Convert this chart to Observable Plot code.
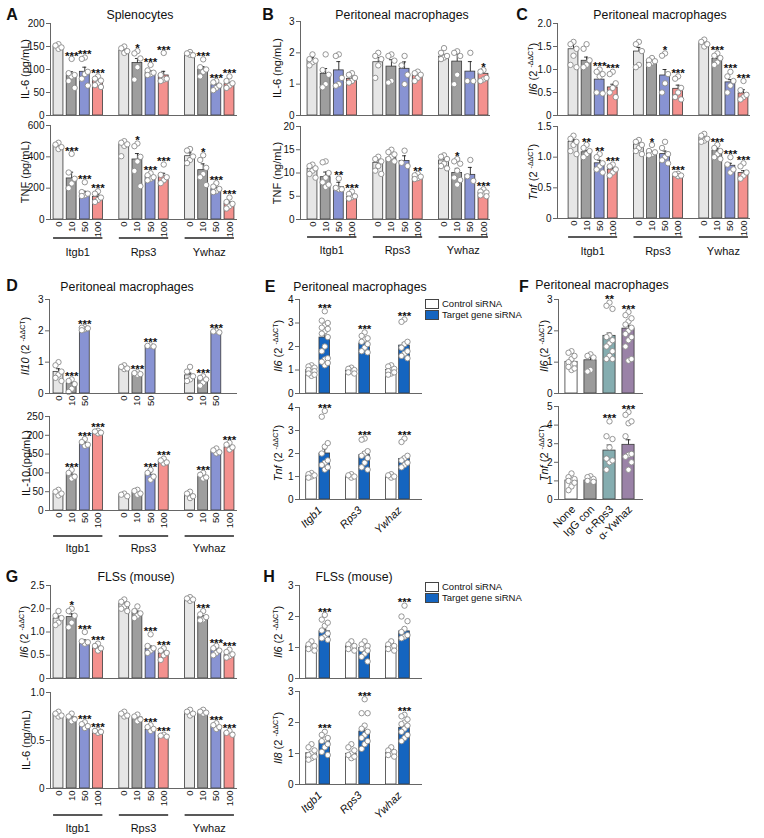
<!DOCTYPE html>
<html><head><meta charset="utf-8">
<script src="https://cdn.jsdelivr.net/npm/d3@7"></script>
<script src="https://cdn.jsdelivr.net/npm/@observablehq/plot@0.6"></script>
<style>
body{margin:0;background:#fff;font-family:"Liberation Sans",Arial,sans-serif;color:#111;}
#fig{position:relative;width:764px;height:838px;overflow:hidden;background:#fff;}
.abs{position:absolute;white-space:nowrap;line-height:1;}
.ctr{transform:translate(-50%,-50%);}
.letter{font-weight:bold;font-size:16px;}
.title{font-size:12.3px;}
.ytitle{font-size:11px;transform:translate(-50%,-50%) rotate(-90deg);}
.ytitle sup{font-size:7px;vertical-align:4px;}
.legend{font-size:9.5px;}
.legend .row{display:flex;align-items:center;height:11px;}
.legend .sw{display:inline-block;width:12px;height:8px;border:1px solid #444;margin-right:3px;}
svg{overflow:visible;}
</style></head>
<body><div id="fig"></div>
<script>
// ---------- categories ----------
const genes = ["Itgb1","Rps3","Ywhaz"];
const doses = ["0","10","50","100"];
const doseColors = ["#e6e6e6","#9e9e9e","#8893d3","#f4918e"];
const sirnaConditions = ["Control siRNA","Target gene siRNA"];
const sirnaColors = ["#ffffff","#1565c0"];
const antibodyTreatments = ["None","IgG con","α-Rps3","α-Ywhaz"];
const antibodyColors = ["#ffffff","#9b9b9b","#85adb0","#9a82a7"];

// ---------- A: splenocytes ----------
const aIl6Means = [150,87,95,76, 141,114,93,87, 134,100,66,68];
const aIl6Sems  = [4,8,10,5, 4,10,4,9, 3,6,4,4];
const aIl6Points = [[155,152,148,145],[123,92,88,85,75,60],[126,123,95,90,80,65],[85,80,76,70,66,62],
  [150,146,140,136],[140,135,124,105,78],[110,98,93,90,88],[136,88,80,78,75],
  [138,135,131,132],[122,105,100,95,85],[75,72,65,60,55],[85,75,70,65,60]];
const aIl6Stars = ["","***","***","***", "","*","***","***", "","***","***","***"];

const aTnfMeans = [470,262,168,143, 480,383,275,277, 404,315,194,100];
const aTnfSems  = [12,40,12,15, 18,38,12,18, 22,40,12,12];
const aTnfPoints = [[490,478,462,450],[419,300,260,230,200],[238,175,165,155,150],[180,165,140,125,112],
  [500,490,480,470,404],[485,468,400,370,310,213],[295,282,270,260,250],[351,285,270,250,232],
  [450,440,402,380,360],[410,380,330,290,270,220],[232,210,195,182,175],[140,112,100,85,70]];
const aTnfStars = ["","***","***","***", "","*","***","***", "","*","***","***"];

// ---------- B: peritoneal macrophages (protein) ----------
const bIl6Means = [1.76,1.33,1.44,1.17, 1.70,1.56,1.49,1.28, 1.88,1.72,1.40,1.33];
const bIl6Sems  = [0.09,0.17,0.28,0.12, 0.15,0.22,0.22,0.12, 0.07,0.23,0.32,0.12];
const bIl6Points = [[1.95,1.8,1.75,1.7,1.6],[1.95,1.45,1.3,1.0,0.9],[1.95,1.9,1.2,1.0,0.95],[1.35,1.3,1.2,1.1,1.05],
  [2.0,1.9,1.8,1.6,1.2],[1.95,1.9,1.75,1.1,1.05],[1.9,1.6,1.3,1.0],[1.4,1.35,1.3,1.2,1.1],
  [2.15,2.0,1.9,1.85,1.8],[2.05,2.0,1.9,1.3,1.0],[2.0,1.1,1.1],[1.45,1.4,1.2,1.15,1.1]];
const bIl6Stars = ["","","","", "","","","", "","","","*"];

const bTnfMeans = [10.9,9.1,7.0,4.8, 12.2,13.2,12.6,9.1, 12.7,10.0,9.6,5.7];
const bTnfSems  = [0.5,1.1,1.0,0.35, 0.9,0.6,1.1,0.3, 0.8,1.0,1.6,0.3];
const bTnfPoints = [[11.8,11.5,11,10.5,9.8,9.0],[12.5,12.3,10,9,8,7.5,7],[8.8,6.8,6.5,6.5],[6,5.5,5,4.8,4.5],
  [13.5,13,12.5,11.5,10.5,9.8],[15,14.5,14,13.5,13,12.5],[14.8,12.2,11.5],[9.8,9.5,9.2,8.9,8.7],
  [13.8,13.5,13,12,11.5,11],[13,12.5,12,10.5,9,8.5,7.5],[12.8,9.3,8.3],[6.5,6,5.8,5.5,5.2,5]];
const bTnfStars = ["","","**","***", "","","","**", "","*","","***"];

// ---------- C: peritoneal macrophages (mRNA) ----------
const cIl6Means = [1.44,1.19,0.78,0.61, 1.39,1.19,0.87,0.58, 1.57,1.23,0.72,0.48];
const cIl6Sems  = [0.11,0.08,0.07,0.07, 0.09,0.03,0.13,0.08, 0.04,0.07,0.06,0.08];
const cIl6Points = [[1.6,1.55,1.45,1.3,1.1,1.05],[1.55,1.45,1.2,1.1,1.05],[1.0,0.95,0.9,0.85,0.5,0.48],[0.95,0.9,0.7,0.6,0.5,0.4],
  [1.6,1.55,1.4,1.1,1.05],[1.25,1.2,1.18,1.15,1.1],[1.35,1.3,0.9,0.7,0.5],[0.85,0.8,0.6,0.5,0.4,0.35],
  [1.65,1.6,1.55,1.5],[1.35,1.3,1.25,1.15,1.1],[0.95,0.85,0.75,0.65,0.5],[0.75,0.55,0.45,0.4,0.35]];
const cIl6Stars = ["","","***","***", "","","*","***", "","***","***","***"];

const cTnfMeans = [1.25,1.08,0.9,0.8, 1.21,1.06,1.05,0.7, 1.32,1.1,0.86,0.74];
const cTnfSems  = [0.04,0.03,0.05,0.03, 0.03,0.03,0.05,0.01, 0.02,0.04,0.04,0.04];
const cTnfPoints = [[1.35,1.3,1.25,1.2,1.1,1.05],[1.2,1.15,1.1,1.05,1.0],[1.05,1.0,0.9,0.85,0.8,0.75],[0.88,0.85,0.8,0.75,0.7],
  [1.28,1.25,1.2,1.15,1.1,1.05],[1.2,1.1,1.08,1.05,1.03],[1.25,1.15,1.05,1.0,0.95,0.9],[0.73,0.72,0.7,0.69],
  [1.38,1.35,1.3,1.27,1.25],[1.2,1.15,1.1,1.05,1.0,0.97],[1.0,0.88,0.8,0.75],[0.9,0.85,0.75,0.7,0.65]];
const cTnfStars = ["","**","**","***", "","*","","***", "","***","***","***"];

// ---------- D: IL-10 ----------
const dIl10Doses = ["0","10","50"];
const dIl10Means = [0.69,0.32,2.1, 0.83,0.64,1.52, 0.58,0.48,1.97];
const dIl10Sems  = [0.1,0.06,0.02, 0.03,0.02,0.01, 0.07,0.04,0.01];
const dIl10Points = [[1.0,0.9,0.7,0.6,0.5,0.4],[0.45,0.4,0.3,0.15,0.05],[2.12,2.1,2.08,2.05,2.02],
  [0.9,0.85,0.8,0.78],[0.68,0.65,0.62,0.6],[1.54,1.52,1.5],
  [0.85,0.7,0.55,0.45,0.4],[0.55,0.5,0.45,0.35,0.25],[2.0,1.98,1.95]];
const dIl10Stars = ["","***","***", "","***","***", "","***","***"];

const dIl10ProteinMeans = [44,95,178,207, 42,47,95,129, 41,89,156,168];
const dIl10ProteinSems  = [3,5,4,2, 2,3,6,3, 4,4,3,4];
const dIl10ProteinPoints = [[55,50,45,40],[108,100,90,85],[190,182,175,172],[212,210,207,205],
  [45,42,38],[55,52,45,42],[108,100,90,82],[138,133,128,125],
  [50,45,38,33],[100,95,88,85],[165,160,155,152],[180,175,168,162]];
const dIl10ProteinStars = ["","***","***","***", "","","***","***", "","***","","***"];

// ---------- E: siRNA, peritoneal macrophages ----------
const eIl6Means = [1.0,2.38, 0.97,2.13, 1.0,2.04];
const eIl6Sems  = [0.03,0.17, 0.02,0.1, 0.03,0.12];
const eIl6Points = [[1.2,1.15,1.1,1.05,1.0,0.95,0.9,0.85,0.8,0.75],
  [3.5,3.1,3.0,2.9,2.8,2.75,2.65,2.55,2.4,2.0,1.8,1.5,1.45,1.35,1.3,1.2],
  [1.1,1.05,1.0,0.95,0.9,0.85],[2.6,2.45,2.35,2.3,2.2,2.1,1.95,1.8,1.75],
  [1.2,1.15,1.05,1.0,0.95,0.9,0.85,0.8],[3.15,3.05,2.2,2.1,1.95,1.8,1.7,1.6,1.5]];
const eIl6Stars = ["","***","","***","","***"];

const eTnfMeans = [1.01,2.0, 1.01,1.93, 1.01,1.76];
const eTnfSems  = [0.02,0.2, 0.02,0.14, 0.02,0.1];
const eTnfPoints = [[1.15,1.1,1.05,1.0,0.95],[3.85,3.6,2.45,2.3,2.0,1.7,1.6,1.5,1.4,1.3],
  [1.1,1.05,1.0,0.95],[2.65,2.6,2.1,2.0,1.9,1.8,1.6,1.4,1.3],
  [1.1,1.05,1.0,0.95],[2.65,2.5,1.9,1.8,1.7,1.6,1.5,1.4]];
const eTnfStars = ["","***","","***","","***"];

// ---------- F: antibodies ----------
const fIl6Means = [1.01,1.06,1.84,2.07];
const fIl6Sems  = [0.06,0.09,0.09,0.11];
const fIl6Points = [[1.35,1.3,1.2,1.1,1.0,0.95,0.9,0.85,0.8,0.75],[1.25,1.2,1.15,0.75,0.7],
  [2.9,2.8,2.7,1.85,1.8,1.7,1.6,1.5,1.35,1.2,1.1,1.1],[2.6,2.5,2.4,2.3,2.2,2.1,2.0,1.9,1.8,1.7,1.5,1.1,1.05]];
const fIl6Stars = ["","","**","***"];

const fTnfMeans = [1.02,1.02,2.63,2.94];
const fTnfSems  = [0.08,0.06,0.3,0.27];
const fTnfPoints = [[1.4,1.2,1.1,1.05,1.0,0.9,0.7,0.5],[1.25,1.2,1.1,1.05,1.0,0.95],
  [4.2,3.4,3.25,2.8,2.2,2.1,2.0,1.6],[4.7,4.55,4.2,4.1,3.4,2.45,2.4,2.3,2.0,1.6]];
const fTnfStars = ["","","***","***"];

// ---------- G: FLSs ----------
const gIl6TickValues = [0,0.5,1,1.5,2];
const gIl6TickLabels = ["0","0.5","1.0","2.0","2.5"];
const gIl6Means = [1.29,1.32,0.79,0.66, 1.61,1.41,0.64,0.54, 1.69,1.32,0.61,0.5];
const gIl6Sems  = [0.05,0.07,0.04,0.03, 0.04,0.04,0.06,0.04, 0.02,0.03,0.03,0.03];
const gIl6Points = [[1.45,1.35,1.3,1.2,1.15],[1.5,1.45,1.35,1.2,1.1],[1.0,0.8,0.78,0.75],[0.75,0.7,0.65,0.6],
  [1.7,1.65,1.6,1.55,1.5,1.45],[1.55,1.45,1.4,1.35,1.3],[0.95,0.7,0.65,0.6,0.55],[0.65,0.6,0.55,0.5,0.4],
  [1.75,1.72,1.7,1.67],[1.45,1.38,1.32,1.27,1.25],[0.7,0.65,0.6,0.55,0.5],[0.62,0.57,0.52,0.48,0.45]];
const gIl6Stars = ["","*","***","***", "","","***","***", "","***","***","***"];

const gIl6ProteinMeans = [0.776,0.74,0.65,0.59, 0.775,0.74,0.61,0.55, 0.79,0.79,0.64,0.58];
const gIl6ProteinSems  = [0.01,0.015,0.01,0.005, 0.01,0.015,0.01,0.005, 0.01,0.01,0.01,0.01];
const gIl6ProteinPoints = [[0.8,0.78,0.76,0.75],[0.78,0.75,0.72,0.7],[0.69,0.67,0.65,0.63],[0.61,0.6,0.59,0.58],
  [0.8,0.78,0.76,0.75],[0.77,0.75,0.72,0.7],[0.66,0.64,0.62,0.6],[0.56,0.55,0.54],
  [0.82,0.8,0.78,0.76],[0.82,0.8,0.79,0.78],[0.68,0.66,0.64,0.62],[0.6,0.58,0.56]];
const gIl6ProteinStars = ["","","***","***", "","","***","***", "","","***","***"];

// ---------- H: FLSs siRNA ----------
const hIl6Means = [1.04,1.52, 1.04,0.99, 1.04,1.52];
const hIl6Sems  = [0.03,0.07, 0.03,0.05, 0.03,0.09];
const hIl6Points = [[1.2,1.1,1.05,1.0,0.95,0.9],[2.05,1.9,1.8,1.7,1.55,1.45,1.35,1.3,1.25],
  [1.2,1.1,1.05,1.0,0.95,0.9],[1.2,1.1,1.05,1.0,0.95,0.9,0.8,0.7,0.55],
  [1.2,1.1,1.05,1.0,0.95,0.9],[2.35,2.0,1.85,1.6,1.5,1.4,1.35,1.3]];
const hIl6Stars = ["","***","","","","***"];

const hIl8Means = [1.01,1.4, 0.99,1.71, 1.01,1.83];
const hIl8Sems  = [0.04,0.06, 0.04,0.12, 0.03,0.07];
const hIl8Points = [[1.3,1.2,1.1,1.0,0.95,0.9,0.85,0.8],[1.7,1.6,1.5,1.45,1.4,1.3,1.2,1.05,0.95],
  [1.3,1.2,1.1,1.0,0.95,0.9,0.85],[2.75,2.3,2.3,1.9,1.8,1.7,1.6,1.5,1.4,1.3,1.15],
  [1.2,1.1,1.05,1.0,0.95,0.9],[2.25,2.2,2.1,2.0,1.95,1.9,1.8,1.7,1.6,1.5,1.4]];
const hIl8Stars = ["","***","","***","","***"];

// ---------- helpers ----------
const fig = document.getElementById("fig");
const intFmt = d => String(d);
const decFmt = d => d === 0 ? "0" : d.toFixed(1);

const withGaps = (groups, items) => groups.flatMap((g, i) => [...(i ? ["gap" + i] : []), ...items.map(c => g + "|" + c)]);
const doseDomain = withGaps(genes, doses);
const doseKeys = genes.flatMap(g => doses.map(d => g + "|" + d));
const doseFill = genes.flatMap(() => doseColors);
const doseGroups = genes.map(g => ({label: g, first: g + "|" + doses[0], last: g + "|" + doses[doses.length - 1]}));
const dKeysTop = genes.flatMap(g => dIl10Doses.map(d => g + "|" + d));
const dFillTop = genes.flatMap(() => doseColors.slice(0, dIl10Doses.length));
const sirnaDomain = withGaps(genes, sirnaConditions);
const sirnaKeys = genes.flatMap(g => sirnaConditions.map(c => g + "|" + c));
const sirnaFill = genes.flatMap(() => sirnaColors);

function addDiv(cls, html, x, y) {
  const d = document.createElement("div");
  d.className = "abs " + cls;
  d.style.left = x + "px"; d.style.top = y + "px";
  d.innerHTML = html;
  fig.appendChild(d);
  return d;
}

function decor(s, h) {
  return (index, scales) => {
    const g = d3.create("svg:g");
    g.append("line").attr("x1", 0.5).attr("x2", 0.5).attr("y1", 0).attr("y2", h)
      .attr("stroke", "#666").attr("stroke-width", 1);
    if (s.groups) {
      const x = scales.x;
      const bw = x.bandwidth ? x.bandwidth() : s._bw;
      for (const gr of s.groups) {
        const x1 = x(gr.first), x2 = x(gr.last) + bw;
        g.append("line").attr("x1", x1).attr("x2", x2)
          .attr("y1", s.underY - s.yTop).attr("y2", s.underY - s.yTop)
          .attr("stroke", "#222").attr("stroke-width", 1.6);
        g.append("text").attr("x", (x1 + x2) / 2).attr("y", s.labelY - s.yTop)
          .attr("text-anchor", "middle").attr("dy", "0.35em").attr("font-size", 11)
          .attr("fill", "#111").text(gr.label);
      }
    }
    return g.node();
  };
}

function chart(s) {
  const n = s.domain.length;
  const step = (s.last - s.first) / (n - 1);
  const pi = s.pi;
  const bw = step * (1 - pi);
  s._bw = bw;
  const start = s.first - bw / 2 - s.axisX;
  const stop = start + step * (n - pi);
  const w = s.right - s.axisX, h = s.y0 - s.yTop;
  const bars = s.keys.map((k, i) => ({key: k, mean: s.means[i], top: s.means[i] + s.sems[i], fill: s.colors[i],
    star: s.stars[i], max: Math.max(s.means[i] + s.sems[i], ...s.points[i])}));
  const pts = s.keys.flatMap((k, i) => s.points[i].map((v, j) => ({key: k, v, j})));
  const offs = [0, -3, 3];
  const marks = [
    Plot.barY(bars, {x: "key", y: "mean", fill: "fill", stroke: "#3a3a3a", strokeWidth: 0.8}),
    Plot.ruleX(bars, {x: "key", y1: "mean", y2: "top", stroke: "#222", strokeWidth: 0.9}),
    Plot.tickY(bars, {x: "key", y: "top", stroke: "#222", strokeWidth: 0.9, insetLeft: bw * 0.3, insetRight: bw * 0.3}),
    ...offs.map((o, m) => Plot.dot(pts.filter(p => p.j % 3 === m), {x: "key", y: "v", r: 2.7, fill: "white",
      stroke: "#8a8a8a", strokeWidth: 0.9, dx: o})),
    Plot.ruleY([0], {stroke: "#666", strokeWidth: 1}),
    Plot.axisY({ticks: s.yTicks, tickFormat: s.fmt, tickSize: 4, tickPadding: 2, stroke: "#666", label: null, fontSize: 10}),
    Plot.text(bars.filter(b => b.star), {x: "key", y: "max", text: "star", dy: -3, fontSize: 11.5, fontWeight: "bold", lineAnchor: "middle"}),
    decor(s, h)
  ];
  let xAxisOpt = null;
  if (s.xAxis === "dose") {
    xAxisOpt = undefined;
    marks.push(Plot.axisX({ticks: s.keys, tickFormat: k => k.split("|")[1], tickRotate: -90, tickSize: 0,
      tickPadding: 2, label: null, fontSize: 9.5}));
  } else if (s.xAxis === "gene45") {
    marks.push(Plot.text(genes.map(g => ({key: g + "|" + sirnaConditions[0], g})),
      {x: "key", text: "g", frameAnchor: "bottom", rotate: -45, textAnchor: "end", dx: step / 2 + 2, dy: 9,
       fontSize: 11, fontStyle: "italic", lineAnchor: "middle"}));
  } else if (s.xAxis === "treat45") {
    marks.push(Plot.text(antibodyTreatments.map(t => ({key: t})),
      {x: "key", text: "key", frameAnchor: "bottom", rotate: -45, textAnchor: "end", dx: 2, dy: 8,
       fontSize: 11, lineAnchor: "middle"}));
  }
  const svg = Plot.plot({
    width: w, height: h, marginTop: 0, marginRight: 0, marginBottom: 0, marginLeft: 0,
    x: {type: "band", domain: s.domain, range: [start, stop], paddingInner: pi, paddingOuter: 0, round: false, axis: xAxisOpt},
    y: {domain: s.yDomain, range: [h, 0]},
    color: {type: "identity"},
    style: {overflow: "visible", fontFamily: "'Liberation Sans', Arial, sans-serif", fontSize: "10px", background: "transparent", color: "#111"},
    marks
  });
  const holder = document.createElement("div");
  holder.className = "abs";
  holder.style.left = s.axisX + "px"; holder.style.top = s.yTop + "px";
  holder.appendChild(svg);
  fig.appendChild(holder);
  if (s.ytitle) addDiv("ytitle", s.ytitle, s.ytitleX, (s.yTop + s.y0) / 2);
}

const dCT = gene => `<i>${gene}</i> (2 <sup>-ΔΔCT</sup>)`;

// layouts
const colA = {axisX: 50, first: 58, last: 229, right: 237, pi: 0.25, domain: doseDomain};
const colB = {axisX: 300, first: 312, last: 483, right: 490, pi: 0.25, domain: doseDomain};
const colC = {axisX: 557, first: 573, last: 743, right: 750, pi: 0.25, domain: doseDomain};
const colE = {axisX: 299, first: 311, last: 404, right: 422, pi: 0.2, domain: sirnaDomain};
const colF = {axisX: 558, first: 571, last: 628, right: 643, pi: 0.36, domain: antibodyTreatments};

const charts = [
  {...colA, yTop: 23, y0: 115, keys: doseKeys, colors: doseFill, yDomain: [0,200], yTicks: [0,50,100,150,200], fmt: intFmt,
   means: aIl6Means, sems: aIl6Sems, points: aIl6Points, stars: aIl6Stars, ytitle: "IL-6 (pg/mL)", ytitleX: 25},
  {...colA, yTop: 125, y0: 219, keys: doseKeys, colors: doseFill, yDomain: [0,600], yTicks: [0,200,400,600], fmt: intFmt,
   means: aTnfMeans, sems: aTnfSems, points: aTnfPoints, stars: aTnfStars, ytitle: "TNF (pg/mL)", ytitleX: 25,
   xAxis: "dose", groups: doseGroups, underY: 238, labelY: 252},
  {...colB, yTop: 21, y0: 115, keys: doseKeys, colors: doseFill, yDomain: [0,3], yTicks: [0,1,2,3], fmt: intFmt,
   means: bIl6Means, sems: bIl6Sems, points: bIl6Points, stars: bIl6Stars, ytitle: "IL-6 (ng/mL)", ytitleX: 277},
  {...colB, yTop: 126, y0: 219, keys: doseKeys, colors: doseFill, yDomain: [0,20], yTicks: [0,5,10,15,20], fmt: intFmt,
   means: bTnfMeans, sems: bTnfSems, points: bTnfPoints, stars: bTnfStars, ytitle: "TNF (ng/mL)", ytitleX: 277,
   xAxis: "dose", groups: doseGroups, underY: 237, labelY: 250},
  {...colC, yTop: 23, y0: 115, keys: doseKeys, colors: doseFill, yDomain: [0,2], yTicks: [0,0.5,1,1.5,2], fmt: decFmt,
   means: cIl6Means, sems: cIl6Sems, points: cIl6Points, stars: cIl6Stars, ytitle: dCT("Il6"), ytitleX: 533},
  {...colC, yTop: 126, y0: 218, keys: doseKeys, colors: doseFill, yDomain: [0,1.5], yTicks: [0,0.5,1,1.5], fmt: decFmt,
   means: cTnfMeans, sems: cTnfSems, points: cTnfPoints, stars: cTnfStars, ytitle: dCT("Tnf"), ytitleX: 533,
   xAxis: "dose", groups: doseGroups, underY: 237, labelY: 251},
  {...colA, axisX: 49, yTop: 299, y0: 393, keys: dKeysTop, colors: dFillTop, yDomain: [0,3], yTicks: [0,1,2,3], fmt: intFmt,
   means: dIl10Means, sems: dIl10Sems, points: dIl10Points, stars: dIl10Stars, ytitle: dCT("Il10"), ytitleX: 25, xAxis: "dose"},
  {...colA, axisX: 49, yTop: 416, y0: 510, keys: doseKeys, colors: doseFill, yDomain: [0,250], yTicks: [0,50,100,150,200,250], fmt: intFmt,
   means: dIl10ProteinMeans, sems: dIl10ProteinSems, points: dIl10ProteinPoints, stars: dIl10ProteinStars, ytitle: "IL-10 (pg/mL)", ytitleX: 26,
   xAxis: "dose", groups: doseGroups, underY: 536, labelY: 548},
  {...colE, yTop: 299, y0: 393, keys: sirnaKeys, colors: sirnaFill, yDomain: [0,4], yTicks: [0,1,2,3,4], fmt: intFmt,
   means: eIl6Means, sems: eIl6Sems, points: eIl6Points, stars: eIl6Stars, ytitle: dCT("Il6"), ytitleX: 278},
  {...colE, yTop: 407, y0: 499, keys: sirnaKeys, colors: sirnaFill, yDomain: [0,4], yTicks: [0,1,2,3,4], fmt: intFmt,
   means: eTnfMeans, sems: eTnfSems, points: eTnfPoints, stars: eTnfStars, ytitle: dCT("Tnf"), ytitleX: 278, xAxis: "gene45"},
  {...colF, yTop: 299, y0: 393, keys: antibodyTreatments, colors: antibodyColors, yDomain: [0,3], yTicks: [0,1,2,3], fmt: intFmt,
   means: fIl6Means, sems: fIl6Sems, points: fIl6Points, stars: fIl6Stars, ytitle: dCT("Il6"), ytitleX: 544},
  {...colF, yTop: 406, y0: 499, keys: antibodyTreatments, colors: antibodyColors, yDomain: [0,5], yTicks: [0,1,2,3,4,5], fmt: intFmt,
   means: fTnfMeans, sems: fTnfSems, points: fTnfPoints, stars: fTnfStars, ytitle: dCT("Tnf"), ytitleX: 544, xAxis: "treat45"},
  {...colA, axisX: 50, yTop: 585, y0: 678, keys: doseKeys, colors: doseFill, yDomain: [0,2], yTicks: gIl6TickValues,
   fmt: d => gIl6TickLabels[gIl6TickValues.indexOf(d)],
   means: gIl6Means, sems: gIl6Sems, points: gIl6Points, stars: gIl6Stars, ytitle: dCT("Il6"), ytitleX: 24},
  {...colA, axisX: 50, yTop: 692, y0: 788, keys: doseKeys, colors: doseFill, yDomain: [0,1], yTicks: [0,0.5,1], fmt: decFmt,
   means: gIl6ProteinMeans, sems: gIl6ProteinSems, points: gIl6ProteinPoints, stars: gIl6ProteinStars, ytitle: "IL-6 (ng/mL)", ytitleX: 26,
   xAxis: "dose", groups: doseGroups, underY: 815, labelY: 828},
  {...colE, yTop: 585, y0: 678, keys: sirnaKeys, colors: sirnaFill, yDomain: [0,3], yTicks: [0,1,2,3], fmt: intFmt,
   means: hIl6Means, sems: hIl6Sems, points: hIl6Points, stars: hIl6Stars, ytitle: dCT("Il6"), ytitleX: 278},
  {...colE, yTop: 691, y0: 784, keys: sirnaKeys, colors: sirnaFill, yDomain: [0,3], yTicks: [0,1,2,3], fmt: intFmt,
   means: hIl8Means, sems: hIl8Sems, points: hIl8Points, stars: hIl8Stars, ytitle: dCT("Il8"), ytitleX: 278, xAxis: "gene45"}
];
charts.forEach(chart);

// panel letters and titles
[["A",12,15],["B",268,15],["C",522,15],["D",12,286],["E",270,287],["F",524,287],["G",12,577],["H",269,577]]
  .forEach(([t,x,y]) => addDiv("letter ctr", t, x, y));
[["Splenocytes",140,15],["Peritoneal macrophages",402,15],["Peritoneal macrophages",660,15],
 ["Peritoneal macrophages",127,287],["Peritoneal macrophages",360,287],["Peritoneal macrophages",602,285],
 ["FLSs (mouse)",136,577],["FLSs (mouse)",354,577]]
  .forEach(([t,x,y]) => addDiv("title ctr", t, x, y));

// legends
function legend(x, y) {
  addDiv("legend", sirnaConditions.map((c, i) =>
    `<div class="row"><span class="sw" style="background:${sirnaColors[i]}"></span>${c}</div>`).join(""), x, y);
}
legend(425, 298);
legend(425, 581);
</script></body></html>
